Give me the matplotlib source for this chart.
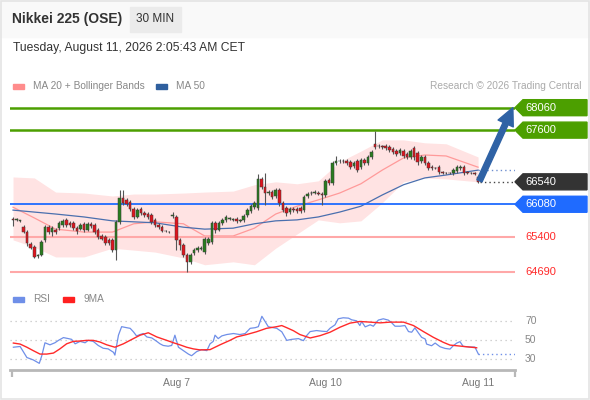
import matplotlib
matplotlib.use("Agg")
import matplotlib.pyplot as plt
from matplotlib.patches import Polygon, Rectangle
from matplotlib import transforms
import numpy as np

plt.rcParams['font.family'] = ['Liberation Sans', 'DejaVu Sans']

# 30 min candles (Aug 6 -> Aug 11)
opens = [65780, 65760, 65740, 65610, 65510, 65270, 65200, 65020, 65040, 65350,
         65610, 65510, 65550, 65590, 65660, 65760, 65700, 65700, 65590, 65570,
         65680, 65550, 65680, 65660, 65550, 65430, 65410, 65350, 65350, 65140,
         65720, 66210, 66170, 66130, 65980, 65820, 65980, 65900, 65880, 65860,
         65760, 65660, 65610, 65530, 65510, 65840, 65820, 65350, 65250, 65040,
         64900, 65080, 65140, 65160, 65100, 65290, 65310, 65700, 65550, 65700,
         65760, 65780, 65760, 65780, 65740, 65760, 65860, 65940, 66020, 66000,
         66600, 66430, 66310, 66330, 66250, 66370, 66110, 66000, 65920, 65980,
         65980, 66000, 65960, 66250, 66310, 66310, 66310, 66290, 66270, 66580,
         66520, 66930, 66970, 66960, 66970, 66950, 66870, 66970, 66840, 66990,
         66930, 67050, 67320, 67280, 67280, 67280, 67250, 67210, 67170, 67130,
         67170, 67110, 67050, 67230, 67130, 66970, 67050, 66930, 66840, 66820,
         66840, 66740, 66720, 66720, 66720, 66760, 66820, 66840, 66740, 66720,
         66730, 66640]
closes = [65760, 65780, 65750, 65510, 65290, 65180, 65000, 65040, 65310, 65610,
          65510, 65590, 65510, 65700, 65740, 65660, 65660, 65590, 65530, 65660,
          65550, 65680, 65640, 65510, 65410, 65370, 65290, 65290, 65140, 65720,
          66210, 66110, 66090, 65980, 65820, 65960, 65900, 65860, 65820, 65720,
          65660, 65610, 65530, 65540, 65520, 65860, 65350, 65250, 65040, 64900,
          65040, 65140, 65180, 65180, 65370, 65370, 65700, 65550, 65700, 65760,
          65820, 65790, 65770, 65740, 65760, 65840, 65960, 66040, 66110, 66600,
          66430, 66310, 66330, 66230, 66370, 66110, 65960, 65900, 65980, 65960,
          65940, 65940, 66230, 66290, 66320, 66330, 66300, 66270, 66560, 66520,
          66930, 66970, 66960, 66970, 66930, 66840, 66930, 66780, 66990, 66930,
          67050, 67150, 67250, 67270, 67250, 67230, 67190, 67150, 67110, 67190,
          67070, 67050, 67170, 67050, 66950, 67050, 66930, 66820, 66820, 66830,
          66740, 66720, 66730, 66720, 66780, 66840, 66840, 66720, 66720, 66730,
          66700, 66540]
highs = [65820, 65800, 65760, 65660, 65550, 65310, 65250, 65060, 65350, 65660,
         65660, 65640, 65590, 65740, 65780, 65800, 65740, 65740, 65640, 65700,
         65720, 65720, 65720, 65700, 65590, 65470, 65450, 65390, 65390, 65760,
         66370, 66370, 66210, 66170, 66020, 66000, 66020, 65940, 65920, 65900,
         65800, 65700, 65660, 65550, 65530, 65920, 65860, 65390, 65290, 65080,
         65080, 65180, 65230, 65230, 65410, 65410, 65740, 65740, 65740, 65800,
         65860, 65820, 65800, 65820, 65780, 65880, 66000, 66090, 66150, 66700,
         66640, 66720, 66370, 66370, 66410, 66410, 66150, 66040, 66020, 66020,
         66020, 66040, 66270, 66330, 66350, 66370, 66350, 66330, 66600, 66620,
         66970, 67070, 67010, 67010, 67010, 66990, 66970, 67010, 67030, 67030,
         67090, 67190, 67580, 67320, 67300, 67320, 67300, 67250, 67210, 67230,
         67210, 67150, 67210, 67280, 67170, 67090, 67090, 66970, 66890, 66840,
         66890, 66760, 66740, 66740, 66820, 66890, 66890, 66890, 66760, 66740,
         66740, 66660]
lows = [65640, 65740, 65720, 65490, 65230, 65160, 64980, 64980, 65020, 65310,
        65470, 65430, 65470, 65550, 65610, 65610, 65610, 65550, 65470, 65550,
        65510, 65530, 65590, 65470, 65370, 65350, 65250, 65250, 65100, 64940,
        65680, 66070, 66040, 65940, 65780, 65800, 65860, 65820, 65780, 65680,
        65610, 65570, 65510, 65510, 65490, 65800, 65140, 65140, 65000, 64690,
        64860, 65040, 65100, 65140, 65060, 65250, 65270, 65490, 65530, 65660,
        65720, 65760, 65740, 65700, 65720, 65720, 65820, 65900, 65980, 65960,
        66390, 66070, 66270, 66190, 66210, 66040, 65920, 65840, 65880, 65920,
        65900, 65900, 65920, 66210, 66270, 66290, 66270, 66070, 66230, 66480,
        66480, 66890, 66930, 66930, 66890, 66800, 66820, 66740, 66800, 66890,
        66890, 67010, 67210, 67230, 67210, 67190, 67150, 67110, 67070, 67090,
        67030, 67010, 67010, 66990, 66890, 66930, 66890, 66780, 66780, 66800,
        66700, 66700, 66700, 66700, 66680, 66720, 66780, 66680, 66700, 66700,
        66680, 66520]

# moving averages / bands, sampled at candle indices
ma_idx = [0, 6, 12, 20, 28, 34, 40, 48, 54, 62, 68, 74, 80, 86, 92, 98, 104, 110, 116, 122, 131]
ma20 = [66020, 65800, 65570, 65510, 65510, 65680, 65720, 65680, 65430, 65430, 65590,
        65880, 66040, 66170, 66310, 66500, 66780, 67030, 67090, 67070, 66840]
ma50 = [65960, 65920, 65880, 65820, 65740, 65720, 65700, 65610, 65570, 65590, 65680,
        65740, 65760, 65820, 65920, 66040, 66270, 66480, 66620, 66680, 66780]
bb_upper = [66640, 66620, 66330, 66310, 66250, 66290, 66290, 66310, 66330, 66350, 66480,
            66540, 66500, 66560, 66950, 67170, 67400, 67400, 67340, 67320, 67050]
bb_lower = [65350, 65200, 65000, 65000, 65180, 65140, 65100, 64980, 64840, 64900, 64840,
            65180, 65470, 65760, 65700, 65740, 66110, 66540, 66620, 66600, 66540]

# key levels
resistances = [68060, 67600]
pivot = 66080
supports = [65400, 64690]
last_price = 66540

# RSI panel
rsi_x = [0.1, 2, 3.9, 5.7, 7.4, 8.1, 9, 10.4, 11.8, 12.8, 14.2, 15.6, 16.5, 17.5, 18.9,
         20.3, 21.2, 22.6, 24, 25.4, 26.8, 28.3, 28.7, 29.7, 30.6, 32, 33, 33.9, 34.8,
         35.8, 36.7, 37.7, 39.1, 40.5, 41.4, 42.3, 43.7, 44.7, 45.6, 46.6, 48, 49.4,
         50.3, 51.7, 53.1, 54.6, 55.5, 56.4, 56.9, 57.8, 58.8, 60.2, 62.1, 63.9, 65.4,
         66.8, 68.2, 69.1, 70.1, 71, 71.9, 73.3, 74.3, 75.7, 77.1, 78.5, 80.4, 81.8,
         82.7, 83.7, 85.5, 87, 88.4, 89.3, 90.7, 91.6, 93, 94.5, 95.4, 96.8, 97.7, 98.2,
         99.2, 100.6, 101.5, 102.9, 104.3, 105.7, 106.7, 107.6, 109, 110.4, 111.4,
         112.3, 113.2, 114.2, 115.1, 116.1, 116.5, 117.9, 118.9, 120.3, 121.7, 123.1,
         124, 125, 125.9, 126.8, 128.7, 130.1, 131.1]
rsi = [42.2, 43.0, 31.1, 28.5, 24.8, 33, 47, 44.8, 47, 49.6, 52.6, 51.5, 50.7, 45.9, 48.5,
       47, 49.6, 48.5, 44.1, 41.1, 40.4, 36.7, 33.7, 55.2, 64.4, 63.3, 62.6, 58.9, 54.4,
       55.9, 57, 53.3, 52.2, 48.5, 45.9, 44.1, 43.3, 44.1, 55.2, 42.2, 38.5, 34.8,
       33, 37.4, 39.6, 38.5, 45.9, 48.5, 55.2, 51.5, 54.4, 55.9, 57, 55.9, 57,
       62.6, 63.3, 64.4, 75.6, 70, 64.4, 63.3, 62.6, 58.9, 49.6, 50.7, 51.5, 49.3,
       54.7, 59.1, 60.2, 59.5, 59.1, 62.7, 66.4, 72.9, 74, 73.6, 71.8, 70.7, 65.6, 70,
       64.2, 66.4, 64.9, 71.5, 72.9, 71.5, 68.5, 64.9, 64.9, 65.6, 59.1,
       58.4, 63.1, 57.6, 52.9, 51.1, 45.6, 43.8, 46.7, 42.7, 40.9, 40.2,
       43.8, 46.7, 48.2, 43.1, 42.4, 42.4, 34.7]
rsi_ma_x = [0.1, 2, 3.9, 5.7, 7.6, 9.5, 11.4, 13.2, 15.1, 17, 18.9, 20.7, 22.6, 24.5, 26.4,
            28.7, 31.1, 33.9, 35.8, 38.1, 40.5, 43.3, 45.2, 47, 48.9, 50.8, 52.7, 55.5,
            58.3, 61.1, 63, 65.8, 68.6, 71.4, 74.3, 75.7, 77.1, 79, 80.8, 83.7, 86.5,
            89.3, 92.1, 94.9, 97.7, 100.6, 103.4, 106.2, 110, 112.8, 115.6, 118.4,
            121.2, 123.1, 125, 127.8, 130.6]
rsi_ma = [46.7, 45.6, 42.2, 38.5, 34.8, 34.8, 35.9, 40.4, 45.9, 48.5, 48.9, 49.6, 49.6, 47.8,
          44.8, 42.2, 45.9, 51.5, 55.2, 57.8, 53.3, 49.6, 47, 44.8, 42.2, 40.4, 39.3, 39.6,
          44.8, 49.6, 53.3, 55.9, 58.9, 62.6, 64.4, 65.6, 63.3, 60, 55.9, 52.2, 54.7,
          58.4, 63.8, 68.2, 70, 69.3, 68.5, 69.3, 69.3, 65.6, 59.1, 52.9,
          47.5, 44.5, 43.8, 42.7, 41.6]
rsi_levels = [70, 50, 30]

day_ticks = [46, 88, 131]
day_labels = ['Aug 7', 'Aug 10', 'Aug 11']

W, H = 590, 400


def fx(px):
    return px / W


def fy(py):
    return 1 - py / H


fig = plt.figure(figsize=(W / 100, H / 100), dpi=100)
fig.patch.set_facecolor('white')

# header
fig.add_artist(Rectangle((0, fy(37)), 1, 37 / H, transform=fig.transFigure,
                         color='#f9f9f9', zorder=0))
fig.add_artist(Rectangle((fx(130), fy(32)), 51 / W, 25 / H, transform=fig.transFigure,
                         color='#ebebeb', zorder=1))
fig.text(fx(12), fy(19), 'Nikkei 225 (OSE)', fontsize=10, fontweight='bold',
         color='#333333', va='center')
fig.text(fx(155.5), fy(19.5), '30 MIN', fontsize=8.5, color='#333333', va='center', ha='center')
fig.text(fx(13), fy(48), 'Tuesday, August 11, 2026 2:05:43 AM CET', fontsize=8.7,
         color='#333333', va='center')
fig.add_artist(Rectangle((0.001, 0.002), 0.997, 0.996, transform=fig.transFigure,
                         fill=False, edgecolor='#e4e4e4', lw=1.2))

# legends
def legend_item(x, y, color, label):
    fig.add_artist(Rectangle((fx(x), fy(y + 2.5)), 11 / W, 5 / H,
                             transform=fig.transFigure, color=color))
    fig.text(fx(x + 20), fy(y), label, fontsize=7.3, color='#888888', va='center')


legend_item(13, 86, '#ff8c8c', 'MA 20 + Bollinger Bands')
legend_item(156, 86, '#2f5f9e', 'MA 50')
fig.text(fx(581), fy(86), 'Research \u00a9 2026 Trading Central', fontsize=7.3,
         color='#aaaaaa', va='center', ha='right')
legend_item(13, 299, '#6f8fe8', 'RSI')
legend_item(63, 299, '#ff2020', '9MA')

# price panel
ax = fig.add_axes([fx(10), fy(285), 505 / W, 190 / H])
ax.set_xlim(-0.85, 141.4)
ax.set_ylim(64425, 68320)
ax.axis('off')

o = np.array(opens)
c = np.array(closes)
x = np.arange(len(o))

ax.fill_between(ma_idx, bb_lower, bb_upper, color='#ffe3e3', lw=0, zorder=1)
ax.plot(ma_idx, ma20, color='#ff9a9a', lw=0.9, zorder=2)
ax.plot(ma_idx, ma50, color='#4a6fae', lw=0.9, zorder=2)

for r in resistances:
    ax.axhline(r, color='#4c9f00', lw=1.8, zorder=3)
ax.axhline(pivot, color='#1f6bff', lw=1.3, zorder=3)
for s in supports:
    ax.axhline(s, color='#ffa8a8', lw=1.5, zorder=3)

up = c >= o
ax.vlines(x, lows, highs, color='#555555', lw=0.8, zorder=4)
ax.bar(x, np.maximum(np.abs(c - o), 8), bottom=np.minimum(o, c), width=0.72,
       color=np.where(up, '#2a7d1f', '#e0141e'), edgecolor='#3a3a3a', lw=0.35, zorder=5)

# dotted extensions
xmax = ax.get_xlim()[1]
ax.hlines(last_price, x[-1] + 0.6, xmax, color='#444444', lw=1.0,
          linestyles=(0, (1, 2.2)), zorder=3)
ax.hlines(ma50[-1], ma_idx[-1], xmax, color='#6e8fd0', lw=1.0,
          linestyles=(0, (1, 2.2)), zorder=3)

# forecast arrow
ax.annotate('', xy=(x[-1] + 9.8, resistances[0]), xytext=(x[-1] + 0.4, last_price + 20),
            arrowprops=dict(arrowstyle='simple,head_length=1.25,head_width=1.2,tail_width=0.4',
                            color='#2f62a5', mutation_scale=10, shrinkA=0, shrinkB=0),
            zorder=6)

# right-hand labels
lab_tr = transforms.blended_transform_factory(fig.transFigure, ax.transData)
half = 8 * 20.5


def tag(price, color):
    pts = [(fx(515), price), (fx(523), price + half), (fx(587), price + half),
           (fx(587), price - half), (fx(523), price - half)]
    ax.add_patch(Polygon(pts, closed=True, transform=lab_tr, color=color,
                         clip_on=False, zorder=6))
    ax.text(fx(525), price, f'{price}', transform=lab_tr, color='white', fontsize=8,
            va='center', ha='left', zorder=7, clip_on=False)


for r in resistances:
    tag(r, '#4c9f00')
tag(last_price, '#333333')
tag(pivot, '#1f6bff')
for s in supports:
    ax.text(fx(525), s, f'{s}', transform=lab_tr, color='#ff2a2a', fontsize=8,
            va='center', ha='left', clip_on=False)

# RSI panel
ax_r = fig.add_axes([fx(10), fy(370), 505 / W, 65 / H])
ax_r.set_xlim(-0.85, 141.4)
ax_r.set_ylim(17.6, 87.8)
for side in ['top', 'left', 'right']:
    ax_r.spines[side].set_visible(False)
ax_r.spines['bottom'].set_color('#b8b8b8')
ax_r.spines['bottom'].set_linewidth(2)
ax_r.set_yticks([])

for lv in rsi_levels:
    ax_r.axhline(lv, color='#c4c4c4', lw=0.9, ls=(0, (1, 3)))
    ax_r.text(fx(525), lv, str(lv), transform=transforms.blended_transform_factory(
        fig.transFigure, ax_r.transData), fontsize=7.5, color='#888888', va='center')

ax_r.plot(rsi_x, rsi, color='#6f8fe8', lw=0.9)
ax_r.plot(rsi_ma_x, rsi_ma, color='#ff2a2a', lw=1.0)
ax_r.hlines(rsi[-1], rsi_x[-1], xmax, color='#6f8fe8', lw=1.0, linestyles=(0, (1, 2.2)))

ax_r.set_xticks([-0.3, 141.3])
ax_r.set_xticklabels([])
ax_r.tick_params(axis='x', which='major', length=5, width=1.6, color='#b8b8b8', direction='out')
ax_r.set_xticks(day_ticks, minor=True)
ax_r.set_xticklabels(day_labels, minor=True)
ax_r.tick_params(axis='x', which='minor', length=0, pad=6, labelsize=7.5, labelcolor='#777777')

fig.savefig('out.png', dpi=100)
